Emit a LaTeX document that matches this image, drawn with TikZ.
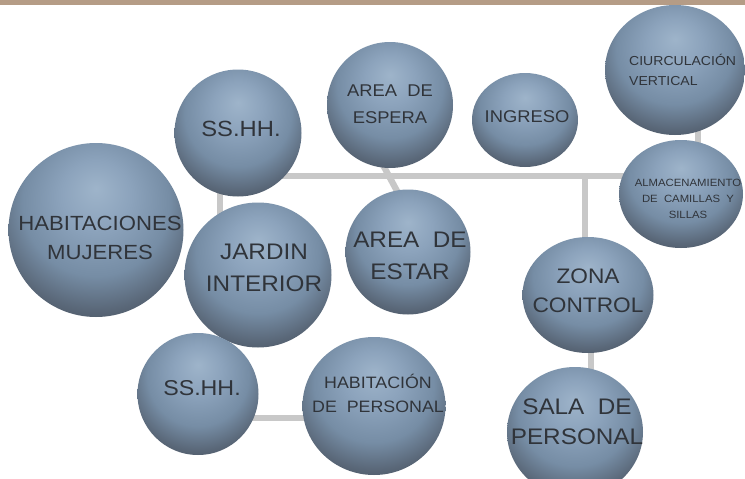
\documentclass[tikz,border=0pt]{standalone}
\usepackage{fontspec}
\setmainfont{Liberation Sans}[FakeStretch=1.08]
\usetikzlibrary{shapes.geometric,backgrounds}

\definecolor{band}{HTML}{B59C86}
\definecolor{linkgray}{HTML}{C8C8C8}
\definecolor{ink}{HTML}{30343A}
\definecolor{bA}{HTML}{9EB4CA}
\definecolor{bB}{HTML}{8CA3BC}
\definecolor{bC}{HTML}{768DA5}
\definecolor{bD}{HTML}{5A6879}
\definecolor{bE}{HTML}{434C58}

% bubble fill: light area above centre, darkening towards the rim and bottom
\pgfdeclareradialshading{bubble}{\pgfpoint{0bp}{12bp}}{%
  color(0bp)=(bA); color(10bp)=(bB); color(21bp)=(bC);
  color(29bp)=(bD); color(36bp)=(bE); color(60bp)=(bE)}

\tikzset{
  bub/.style={ellipse, inner sep=0pt, shading=bubble, draw=none},
  lbl/.style={text=ink, align=center, inner sep=0pt},
  link/.style={draw=linkgray, line width=6.3pt}
}

\begin{document}
\begin{tikzpicture}[x=1pt, y=-1pt]
\useasboundingbox (0,0) rectangle (745,479);

% junction and bend points of the corridor lines
\coordinate (jl) at (220,176);
\coordinate (jr) at (585,176);
\coordinate (dA) at (376,152);
\coordinate (dB) at (404,204);
\coordinate (cv) at (698,110);
\coordinate (zs) at (591,330);
\coordinate (sh) at (220,418);

% bubbles
\node[bub, minimum width=140pt, minimum height=130pt] (circ) at (675,70) {};
\node[bub, minimum width=124pt, minimum height=108pt] (alm)  at (681,194) {};
\node[bub, minimum width=106pt, minimum height=94pt]  (ing)  at (525,120) {};
\node[bub, minimum width=126pt, minimum height=126pt] (esp)  at (390,105) {};
\node[bub, minimum width=127pt, minimum height=127pt] (ssa)  at (238,133) {};
\node[bub, minimum width=175pt, minimum height=174pt] (hab)  at (96,230) {};
\node[bub, minimum width=147pt, minimum height=145pt] (jar)  at (258,275) {};
\node[bub, minimum width=125pt, minimum height=125pt] (est)  at (408,252) {};
\node[bub, minimum width=131pt, minimum height=116pt] (zon)  at (588,295) {};
\node[bub, minimum width=136pt, minimum height=130pt] (sal)  at (575,432) {};
\node[bub, minimum width=121pt, minimum height=122pt] (ssb)  at (198,394) {};
\node[bub, minimum width=143pt, minimum height=138pt] (hper) at (374,406) {};

% page, top band and corridor lines, all under the bubbles
\begin{scope}[on background layer]
  \fill[white] (0,0) rectangle (745,479);
  \fill[band] (0,0) rectangle (745,4.5);
  \draw[link] (jl) -- (jl -| alm);
  \draw[link] (jl) -- (jl |- jar);
  \draw[link] (jr) -- (jr |- zon);
  \draw[link] (dA) -- (dB);
  \draw[link] (cv) -- (cv |- alm);
  \draw[link] (zs) -- (zs |- sal);
  \draw[link] (sh) -- (sh -| hper);
\end{scope}

% labels
\node[lbl, font=\fontsize{13}{20.5}\selectfont, align=left, anchor=west] (tcirc) at (629,70) {CIURCULACIÓN\\VERTICAL};
\node[lbl, font=\fontsize{10.5}{16}\selectfont] (talm) at (688,199) {ALMACENAMIENTO\\DE\ \ CAMILLAS\ \ Y\\SILLAS};
\node[lbl, font=\fontsize{17}{27}\selectfont] (ting) at (527,117) {INGRESO};
\node[lbl, font=\fontsize{17}{27}\selectfont] (tesp) at (390,104.5) {AREA\ \ DE\\ESPERA};
\node[lbl, font=\fontsize{22}{30}\selectfont] (tssa) at (241,129) {SS.HH.};
\node[lbl, font=\fontsize{20.5}{29}\selectfont] (thab) at (100,237.5) {HABITACIONES\\MUJERES};
\node[lbl, font=\fontsize{22.5}{32}\selectfont] (tjar) at (264,268) {JARDIN\\INTERIOR};
\node[lbl, font=\fontsize{22.5}{32}\selectfont] (test) at (410,256) {AREA\ \ DE\\ESTAR};
\node[lbl, font=\fontsize{21}{29}\selectfont] (tzon) at (588,290.5) {ZONA\\CONTROL};
\node[lbl, font=\fontsize{22.5}{30}\selectfont] (tsal) at (577,422) {SALA\ \ DE\\PERSONAL};
\node[lbl, font=\fontsize{21.5}{30}\selectfont] (tssb) at (202,388) {SS.HH.};
\node[lbl, font=\fontsize{16.5}{24}\selectfont] (thper) at (378,393) {HABITACIÓN\\DE\ \ PERSONAL};
\end{tikzpicture}
\end{document}
